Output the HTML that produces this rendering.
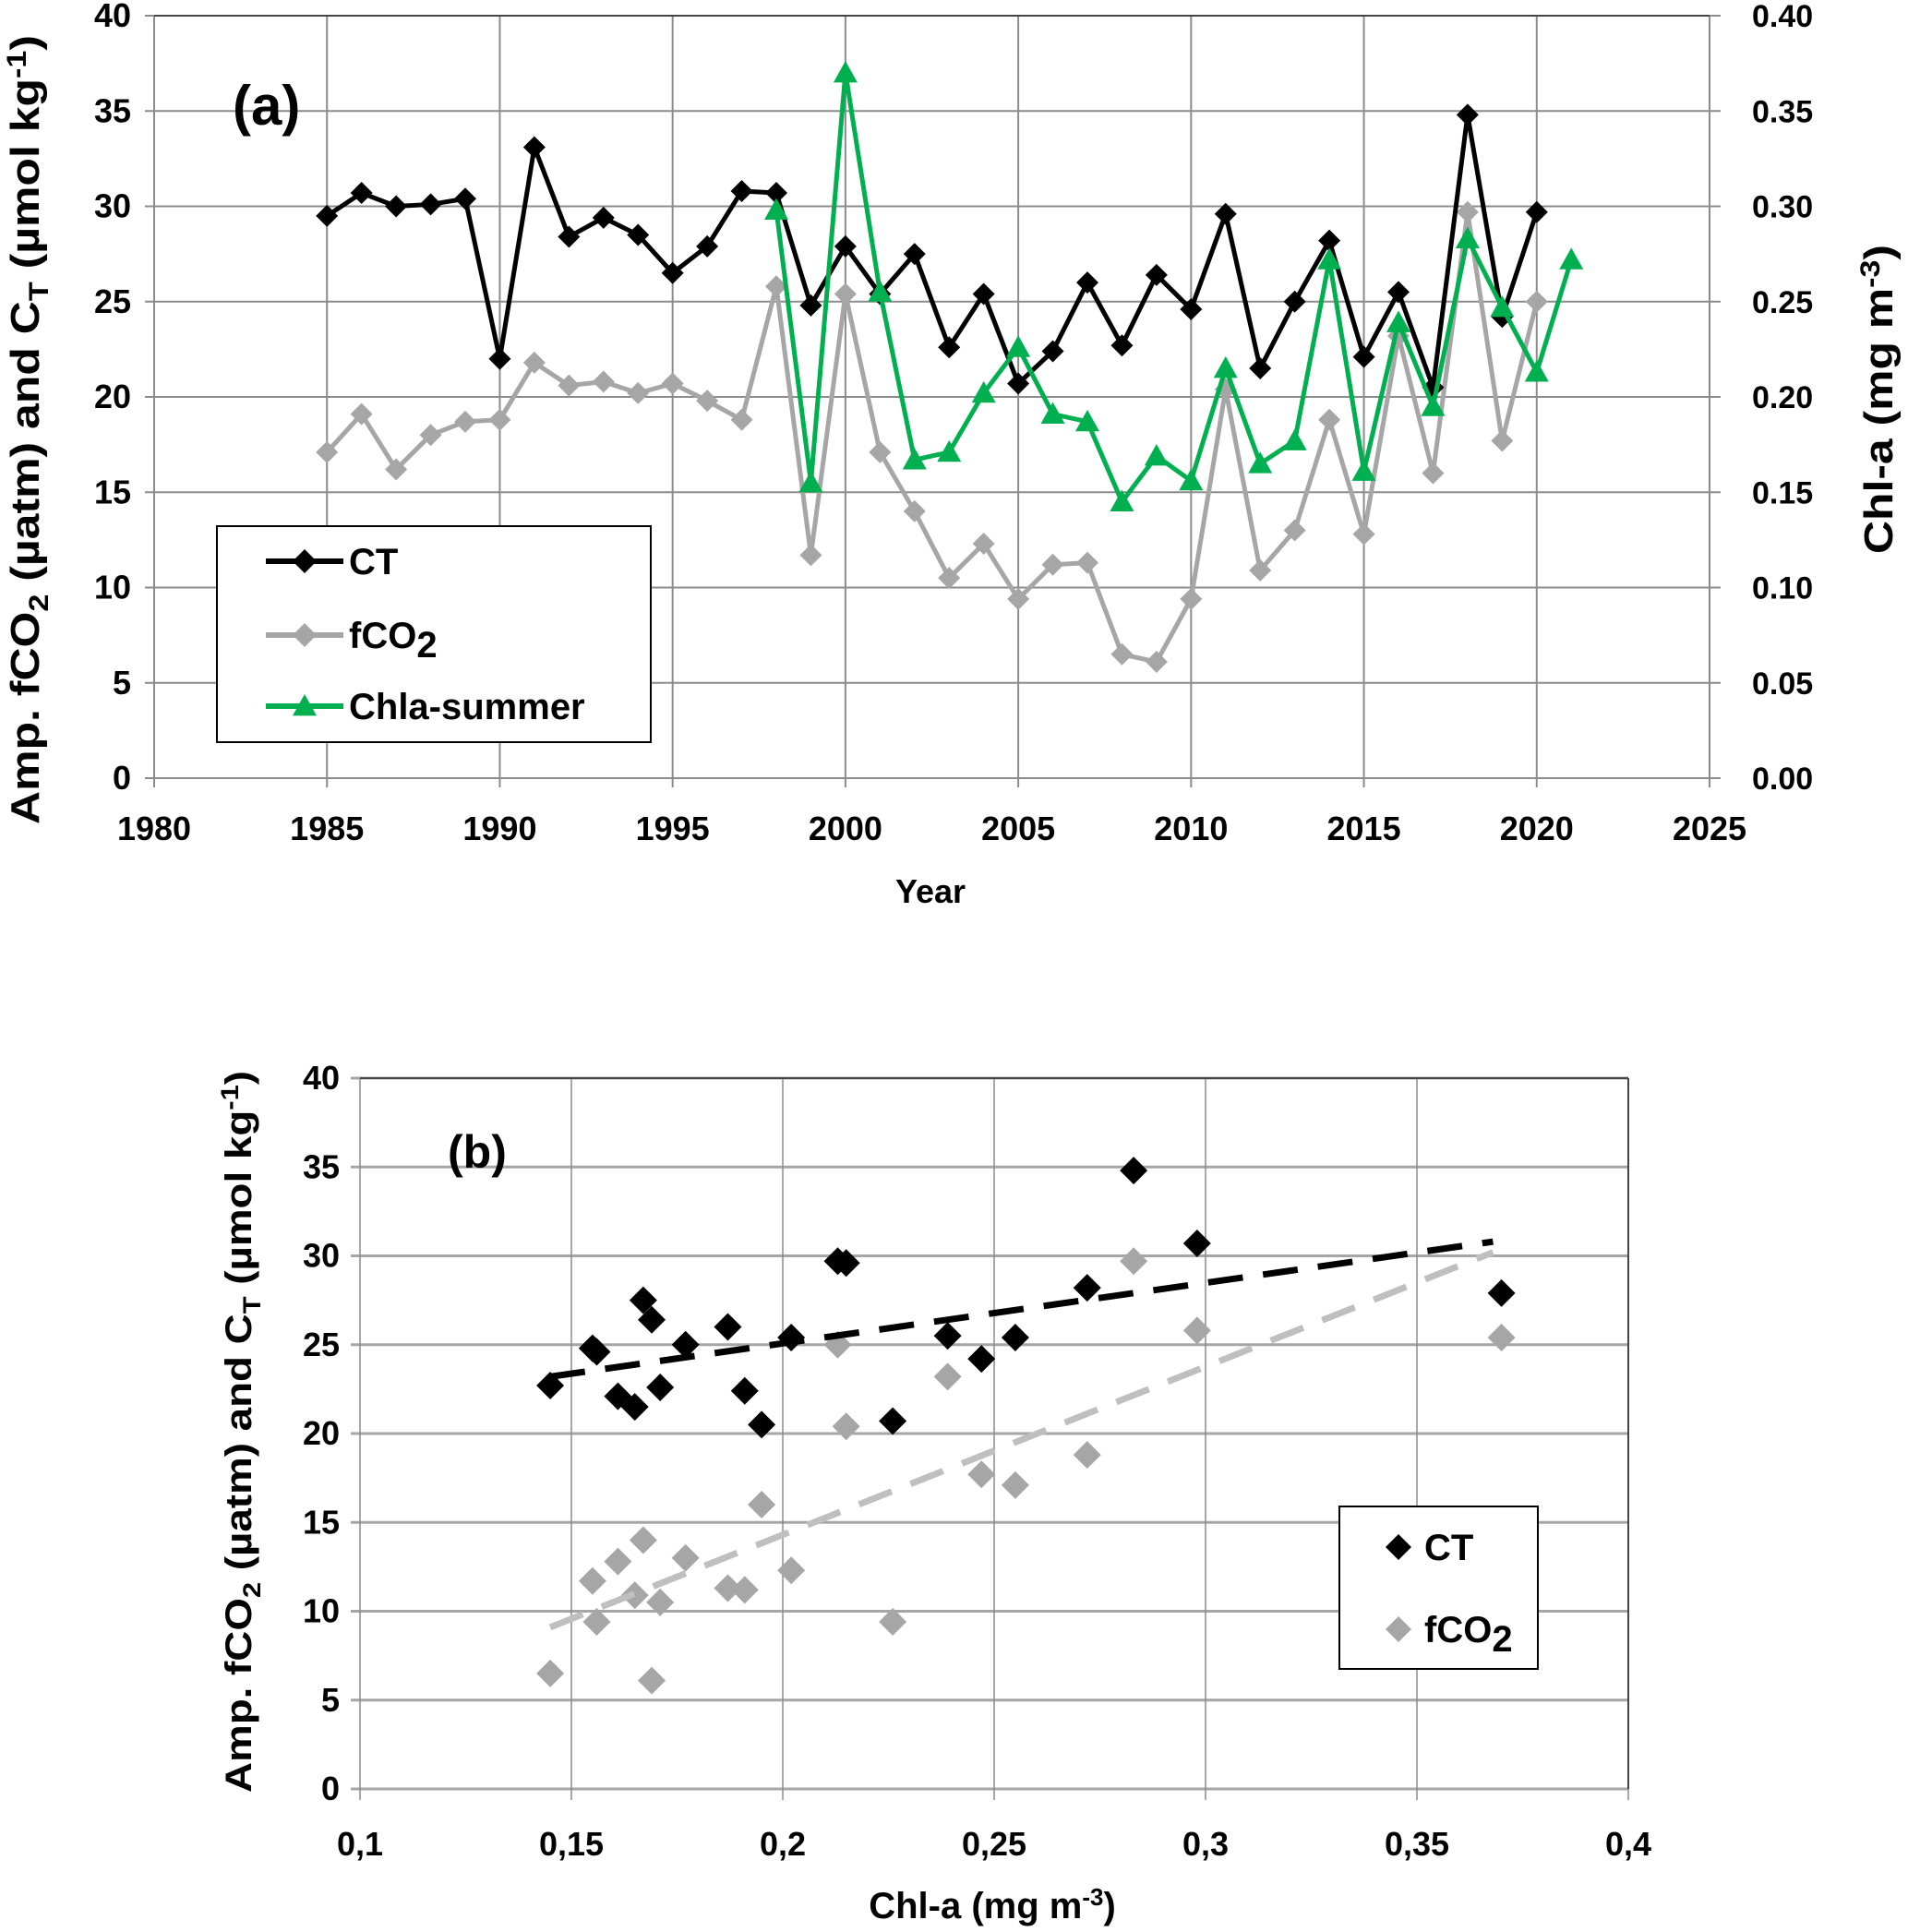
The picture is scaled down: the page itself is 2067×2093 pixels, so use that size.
<!DOCTYPE html>
<html><head><meta charset="utf-8"><style>
html,body{margin:0;padding:0;background:#fff;}
svg{display:block;font-family:"Liberation Sans",sans-serif;}
.tk{font-size:34px;font-weight:bold;fill:#000;}
.tkc{font-size:36px;fill:#000;font-family:"Liberation Sans Narrow","Liberation Sans",sans-serif;font-weight:bold;}
</style></head><body>
<svg id="chart" width="2067" height="2093" viewBox="0 0 2067 2093">
<g id="ga"></g>
<g id="gb"></g>
</svg>
<script>
// ---- Panel (a) data ----
const yearsCT = [1985,1986,1987,1988,1989,1990,1991,1992,1993,1994,1995,1996,1997,1998,1999,2000,2001,2002,2003,2004,2005,2006,2007,2008,2009,2010,2011,2012,2013,2014,2015,2016,2017,2018,2019,2020];
const ctValues = [29.5,30.7,30.0,30.1,30.4,22.0,33.1,28.4,29.4,28.5,26.5,27.9,30.8,30.7,24.8,27.9,25.4,27.5,22.6,25.4,20.7,22.4,26.0,22.7,26.4,24.6,29.6,21.5,25.0,28.2,22.1,25.5,20.5,34.8,24.2,29.7];
const fco2Values = [17.1,19.1,16.2,18.0,18.7,18.8,21.8,20.6,20.8,20.2,20.7,19.8,18.8,25.8,11.7,25.4,17.1,14.0,10.5,12.3,9.4,11.2,11.3,6.5,6.1,9.4,20.4,10.9,13.0,18.8,12.8,23.2,16.0,29.7,17.7,25.0];
const yearsChla = [1998,1999,2000,2001,2002,2003,2004,2005,2006,2007,2008,2009,2010,2011,2012,2013,2014,2015,2016,2017,2018,2019,2020,2021];
const chlaValues = [0.298,0.155,0.370,0.255,0.167,0.171,0.202,0.226,0.191,0.187,0.145,0.169,0.156,0.215,0.165,0.177,0.272,0.161,0.239,0.195,0.283,0.247,0.213,0.272];
const xTicksA = [1980,1985,1990,1995,2000,2005,2010,2015,2020,2025];
const yTicksLeft = [0,5,10,15,20,25,30,35,40];
const yTicksRight = ["0.00","0.05","0.10","0.15","0.20","0.25","0.30","0.35","0.40"];
// ---- Panel (b) data ----
const scatterChla = [0.298,0.155,0.370,0.255,0.167,0.171,0.202,0.226,0.191,0.187,0.145,0.169,0.156,0.215,0.165,0.177,0.272,0.161,0.239,0.195,0.283,0.247,0.213];
const scatterCT = [30.7,24.8,27.9,25.4,27.5,22.6,25.4,20.7,22.4,26.0,22.7,26.4,24.6,29.6,21.5,25.0,28.2,22.1,25.5,20.5,34.8,24.2,29.7];
const scatterFCO2 = [25.8,11.7,25.4,17.1,14.0,10.5,12.3,9.4,11.2,11.3,6.5,6.1,9.4,20.4,10.9,13.0,18.8,12.8,23.2,16.0,29.7,17.7,25.0];
const trendX = [0.145,0.368];
const trendCT = [23.2,30.8];
const trendFCO2 = [9.1,30.2];
const xTicksB = ["0,1","0,15","0,2","0,25","0,3","0,35","0,4"];
const xTickValsB = [0.1,0.15,0.2,0.25,0.3,0.35,0.4];

const NS="http://www.w3.org/2000/svg";
function mk(parent,tag,attrs,text){const e=document.createElementNS(NS,tag);for(const k in attrs)e.setAttribute(k,attrs[k]);if(text!==undefined)e.textContent=text;parent.appendChild(e);return e;}
function diamond(x,y,r){return `M${x},${y-r}L${x+r},${y}L${x},${y+r}L${x-r},${y}Z`;}
function tri(x,y,r){return `M${x},${y-r}L${x+r},${y+r*0.8}L${x-r},${y+r*0.8}Z`;}

// ===== Panel A =====
const ga=document.getElementById('ga');
const AL=167,AR=1852,AT=17,AB=843;
const ax=v=>AL+(v-1980)/45*(AR-AL);
const ay=v=>AB-v/40*(AB-AT);
const ay2=v=>AB-v/0.4*(AB-AT);
yTicksLeft.forEach((t,i)=>{
  const y=ay(t);
  const l=mk(ga,'line',{x1:AL-10,x2:AR+12,y1:y,y2:y,stroke:'#8c8c8c','stroke-width':2});
  
  const tx=mk(ga,'text',{x:AL-25,y:y+12,'text-anchor':'end',class:'tkc'},t);
  
  const tr=mk(ga,'text',{x:1898,y:y+12,class:'tk'},yTicksRight[i]);
  
});
xTicksA.forEach(t=>{
  const x=ax(t);
  const l=mk(ga,'line',{x1:x,x2:x,y1:AT,y2:AB+10,stroke:'#8c8c8c','stroke-width':2});
  
  const tx=mk(ga,'text',{x:x,y:910,'text-anchor':'middle',class:'tkc'},t);
  
});
mk(ga,'line',{x1:AL,x2:AR,y1:AT,y2:AT,stroke:'#444','stroke-width':2});
function series(g,xs,ys,xf,yf,color,marker,r,name){
  const pts=xs.map((x,i)=>[xf(x),yf(ys[i])]);
  const p=mk(g,'polyline',{points:pts.map(p=>p.join(',')).join(' '),fill:'none',stroke:color,'stroke-width':5,'stroke-linejoin':'round'});
  
  pts.forEach(pt=>{
    const m=mk(g,'path',{d:marker(pt[0],pt[1],r),fill:color});
    
  });
}
series(ga,yearsCT,fco2Values,ax,ay,'#a6a6a6',diamond,12,'fco2');
series(ga,yearsCT,ctValues,ax,ay,'#000',diamond,12,'ct');
series(ga,yearsChla,chlaValues,ax,ay2,'#00b050',tri,13,'chla-summer');
let t=mk(ga,'text',{x:252,y:135,'font-size':60,'font-weight':'bold',fill:'#000'},'(a)');

t=mk(ga,'text',{x:1008,y:978,'text-anchor':'middle',class:'tkc','font-size':40},'Year');

t=mk(ga,'text',{transform:'translate(42,893) rotate(-90)','font-size':44,'font-weight':'bold',textLength:855,lengthAdjust:'spacingAndGlyphs'});
t.innerHTML='Amp. fCO<tspan font-size="30" dy="10">2</tspan><tspan dy="-10"> (µatm) and C</tspan><tspan font-size="30" dy="10">T</tspan><tspan dy="-10"> (µmol kg</tspan><tspan font-size="30" dy="-14">-1</tspan><tspan dy="14">)</tspan>';

t=mk(ga,'text',{transform:'translate(2050,600) rotate(-90)','font-size':44,'font-weight':'bold',textLength:335,lengthAdjust:'spacingAndGlyphs'});
t.innerHTML='Chl-a (mg m<tspan font-size="30" dy="-14">-3</tspan><tspan dy="14">)</tspan>';

// legend a
const lg=mk(ga,'g',{});
mk(lg,'rect',{x:235,y:570,width:470,height:234,fill:'#fff',stroke:'#000','stroke-width':2});
[['CT','#000',diamond,608],['fCO2','#a6a6a6',diamond,688],['Chla-summer','#00b050',tri,765]].forEach(e=>{
  const g=mk(lg,'g',{});
  mk(g,'line',{x1:288,x2:372,y1:e[3],y2:e[3],stroke:e[1],'stroke-width':6});
  mk(g,'path',{d:e[2](330,e[3],13),fill:e[1]});
  const tx=mk(g,'text',{x:378,y:e[3]+14,'font-size':40,'font-weight':'bold'});
  if(e[0]==='fCO2')tx.innerHTML='fCO<tspan dy="10">2</tspan>';else tx.textContent=e[0];
});

// ===== Panel B =====
const gb=document.getElementById('gb');
const BL=390,BR=1764,BT=1168,BB=1938;
const bx=v=>BL+(v-0.1)/0.3*(BR-BL);
const by=v=>BB-v/40*(BB-BT);
yTicksLeft.forEach(tv=>{
  const y=by(tv);
  const l=mk(gb,'line',{x1:BL-10,x2:BR,y1:y,y2:y,stroke:'#a6a6a6','stroke-width':3});
  
  const tx=mk(gb,'text',{x:BL-22,y:y+12,'text-anchor':'end',class:'tkc'},tv);
  
});
xTickValsB.forEach((v,i)=>{
  const x=bx(v);
  const l=mk(gb,'line',{x1:x,x2:x,y1:BT,y2:BB+12,stroke:'#8c8c8c','stroke-width':1.5});
  
  const tx=mk(gb,'text',{x:x,y:2010,'text-anchor':'middle',class:'tkc'},xTicksB[i]);
  
});
mk(gb,'line',{x1:BL,x2:BR,y1:BT,y2:BT,stroke:'#444','stroke-width':2});
mk(gb,'line',{x1:BR,x2:BR,y1:BT,y2:BB,stroke:'#444','stroke-width':2});
scatterChla.forEach((c,i)=>{
  const m=mk(gb,'path',{d:diamond(bx(c),by(scatterFCO2[i]),15),fill:'#a6a6a6'});
  
});
scatterChla.forEach((c,i)=>{
  const m=mk(gb,'path',{d:diamond(bx(c),by(scatterCT[i]),15),fill:'#000'});
  
});
let tl=mk(gb,'line',{x1:bx(trendX[0]),y1:by(trendFCO2[0]),x2:bx(trendX[1]),y2:by(trendFCO2[1]),stroke:'#bfbfbf','stroke-width':7,'stroke-dasharray':'38,22'});

tl=mk(gb,'line',{x1:bx(trendX[0]),y1:by(trendCT[0]),x2:bx(trendX[1]),y2:by(trendCT[1]),stroke:'#000','stroke-width':7,'stroke-dasharray':'38,22'});

t=mk(gb,'text',{x:485,y:1265,'font-size':50,'font-weight':'bold'},'(b)');

t=mk(gb,'text',{x:1075,y:2078,'text-anchor':'middle','font-size':40,'font-weight':'bold'});
t.innerHTML='Chl-a (mg m<tspan font-size="26" dy="-14">-3</tspan><tspan dy="14">)</tspan>';

t=mk(gb,'text',{transform:'translate(272,1942) rotate(-90)','font-size':40,'font-weight':'bold',textLength:782,lengthAdjust:'spacingAndGlyphs'});
t.innerHTML='Amp. fCO<tspan font-size="27" dy="10">2</tspan><tspan dy="-10"> (µatm) and C</tspan><tspan font-size="27" dy="10">T</tspan><tspan dy="-10"> (µmol kg</tspan><tspan font-size="27" dy="-14">-1</tspan><tspan dy="14">)</tspan>';

const lb=mk(gb,'g',{});
mk(lb,'rect',{x:1451,y:1632,width:215,height:176,fill:'#fff',stroke:'#000','stroke-width':2});
[['CT','#000',1676],['fCO2','#a6a6a6',1765]].forEach(e=>{
  const g=mk(lb,'g',{});
  mk(g,'path',{d:diamond(1515,e[2],14),fill:e[1]});
  const tx=mk(g,'text',{x:1543,y:e[2]+14,'font-size':40,'font-weight':'bold'});
  if(e[0]==='fCO2')tx.innerHTML='fCO<tspan dy="10">2</tspan>';else tx.textContent=e[0];
});
</script>
</body></html>
